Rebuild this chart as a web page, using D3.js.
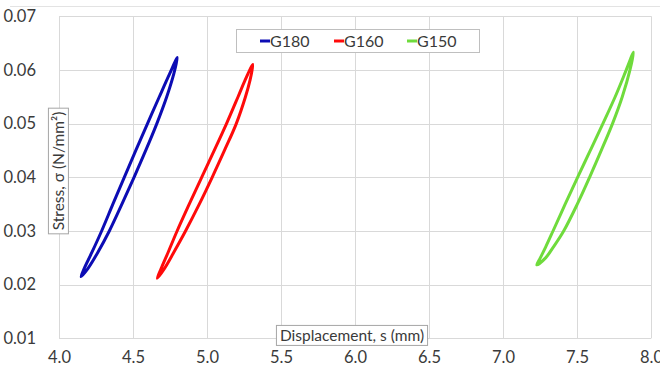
<!DOCTYPE html>
<html>
<head>
<meta charset="utf-8">
<script src="https://cdn.jsdelivr.net/npm/d3@7/dist/d3.min.js"></script>
<style>
body { margin: 0; background: #fff; }
text { font-family: Lato, "Open Sans", sans-serif; fill: #3a3a3a; }
</style>
</head>
<body>
<script>
// tick labels
var xTicks = [4.0, 4.5, 5.0, 5.5, 6.0, 6.5, 7.0, 7.5, 8.0];
var yTicks = [0.01, 0.02, 0.03, 0.04, 0.05, 0.06, 0.07];

var seriesNames = ["G180", "G160", "G150"];

// each loop: stress levels, displacement of the left branch and of the right branch
var g180Stress = [0.0215, 0.023, 0.026, 0.030, 0.035, 0.040, 0.045, 0.050, 0.055, 0.0593, 0.0623];
var g180Left   = [4.149, 4.170, 4.222, 4.288, 4.364, 4.441, 4.519, 4.598, 4.678, 4.748, 4.800];
var g180Right  = [4.149, 4.195, 4.262, 4.340, 4.425, 4.507, 4.586, 4.661, 4.728, 4.776, 4.800];

var g160Stress = [0.0212, 0.023, 0.026, 0.030, 0.035, 0.040, 0.045, 0.050, 0.055, 0.058, 0.0610];
var g160Left   = [4.664, 4.690, 4.737, 4.798, 4.880, 4.964, 5.049, 5.132, 5.210, 5.256, 5.310];
var g160Right  = [4.664, 4.712, 4.775, 4.855, 4.948, 5.035, 5.118, 5.198, 5.260, 5.290, 5.310];

var g150Stress = [0.0237, 0.025, 0.027, 0.030, 0.035, 0.040, 0.045, 0.050, 0.055, 0.060, 0.0633];
var g150Left   = [7.228, 7.252, 7.288, 7.338, 7.420, 7.504, 7.590, 7.675, 7.758, 7.833, 7.882];
var g150Right  = [7.228, 7.288, 7.340, 7.410, 7.502, 7.585, 7.664, 7.740, 7.806, 7.858, 7.882];

var width = 660, height = 369;

var svg = d3.select("body").append("svg")
	.attr("width", width)
	.attr("height", height);

// set the ranges
var x = d3.scaleLinear().domain([4, 8]).range([59, 651]);
var y = d3.scaleLinear().domain([0.01, 0.07]).range([338.4, 16.2]);
var color = d3.scaleOrdinal().domain(seriesNames).range(["#0c0cb4", "#ff0a0a", "#6fdb3c"]);

// faint chart border at the top
svg.append("line")
	.attr("x1", 10).attr("x2", width)
	.attr("y1", 6.5).attr("y2", 6.5)
	.attr("stroke", "#e3e3e3");

// gridlines
svg.append("g").selectAll("line")
	.data(yTicks)
	.enter().append("line")
	.attr("x1", x(4)).attr("x2", x(8))
	.attr("y1", function(d) { return Math.round(y(d)) + 0.5; })
	.attr("y2", function(d) { return Math.round(y(d)) + 0.5; })
	.attr("stroke", "#d9d9d9");

svg.append("g").selectAll("line")
	.data(xTicks)
	.enter().append("line")
	.attr("x1", function(d) { return Math.round(x(d)) + 0.5; })
	.attr("x2", function(d) { return Math.round(x(d)) + 0.5; })
	.attr("y1", y(0.07)).attr("y2", y(0.01))
	.attr("stroke", "#d9d9d9");

// axes, labels only
var xAxis = svg.append("g")
	.attr("transform", "translate(0," + y(0.01) + ")")
	.call(d3.axisBottom(x).tickValues(xTicks).tickFormat(d3.format(".1f")).tickSize(0).tickPadding(13));
var yAxis = svg.append("g")
	.attr("transform", "translate(" + x(4) + ",0)")
	.call(d3.axisLeft(y).tickValues(yTicks).tickFormat(d3.format(".2f")).tickSize(0).tickPadding(23));
[xAxis, yAxis].forEach(function(a) {
	a.select(".domain").remove();
	a.selectAll("text").attr("fill", "#3a3a3a").style("font-size", "16.5px").style("font-family", "Lato, 'Open Sans', sans-serif");
});

// build closed loops: left branch up, right branch back down
function loop(stress, left, right) {
	var pts = [];
	for (var i = 0; i < stress.length; i++) pts.push([left[i], stress[i]]);
	for (var j = stress.length - 2; j > 0; j--) pts.push([right[j], stress[j]]);
	return pts;
}
var loops = [
	loop(g180Stress, g180Left, g180Right),
	loop(g160Stress, g160Left, g160Right),
	loop(g150Stress, g150Left, g150Right)
];

var line = d3.line()
	.x(function(d) { return x(d[0]); })
	.y(function(d) { return y(d[1]); })
	.curve(d3.curveCatmullRomClosed.alpha(0.5));

svg.append("g").selectAll("path")
	.data(loops)
	.enter().append("path")
	.attr("d", line)
	.attr("fill", "none")
	.attr("stroke", function(d, i) { return color(seriesNames[i]); })
	.attr("stroke-width", 3)
	.attr("stroke-linejoin", "round");

// legend
var legend = svg.append("g");
legend.append("rect")
	.attr("x", 236.5).attr("y", 29.5)
	.attr("width", 243).attr("height", 23)
	.attr("fill", "#fff").attr("stroke", "#bfbfbf");
var legendX = [260, 334, 407];
seriesNames.forEach(function(name, i) {
	legend.append("line")
		.attr("x1", legendX[i]).attr("x2", legendX[i] + 10)
		.attr("y1", 41).attr("y2", 41)
		.attr("stroke", color(name)).attr("stroke-width", 3);
	legend.append("text")
		.attr("x", legendX[i] + 10).attr("y", 47)
		.style("font-size", "16px")
		.text(name);
});

// axis titles in boxes
function boxedTitle(g, label) {
	var t = g.append("text")
		.attr("text-anchor", "middle")
		.attr("dy", "0.35em")
		.style("font-size", "15.5px")
		.text(label);
	var b = t.node().getBBox();
	g.insert("rect", "text")
		.attr("x", b.x - 3.5).attr("y", b.y - 1)
		.attr("width", b.width + 7).attr("height", b.height + 2)
		.attr("fill", "#fff").attr("stroke", "#a6a6a6");
}

var xTitle = svg.append("g").attr("transform", "translate(352,336)");
boxedTitle(xTitle, "Displacement, s (mm)");

var yTitle = svg.append("g").attr("transform", "translate(59,171) rotate(-90)");
boxedTitle(yTitle, "Stress, \u03c3 (N/mm\u00b2)");
</script>
</body>
</html>
